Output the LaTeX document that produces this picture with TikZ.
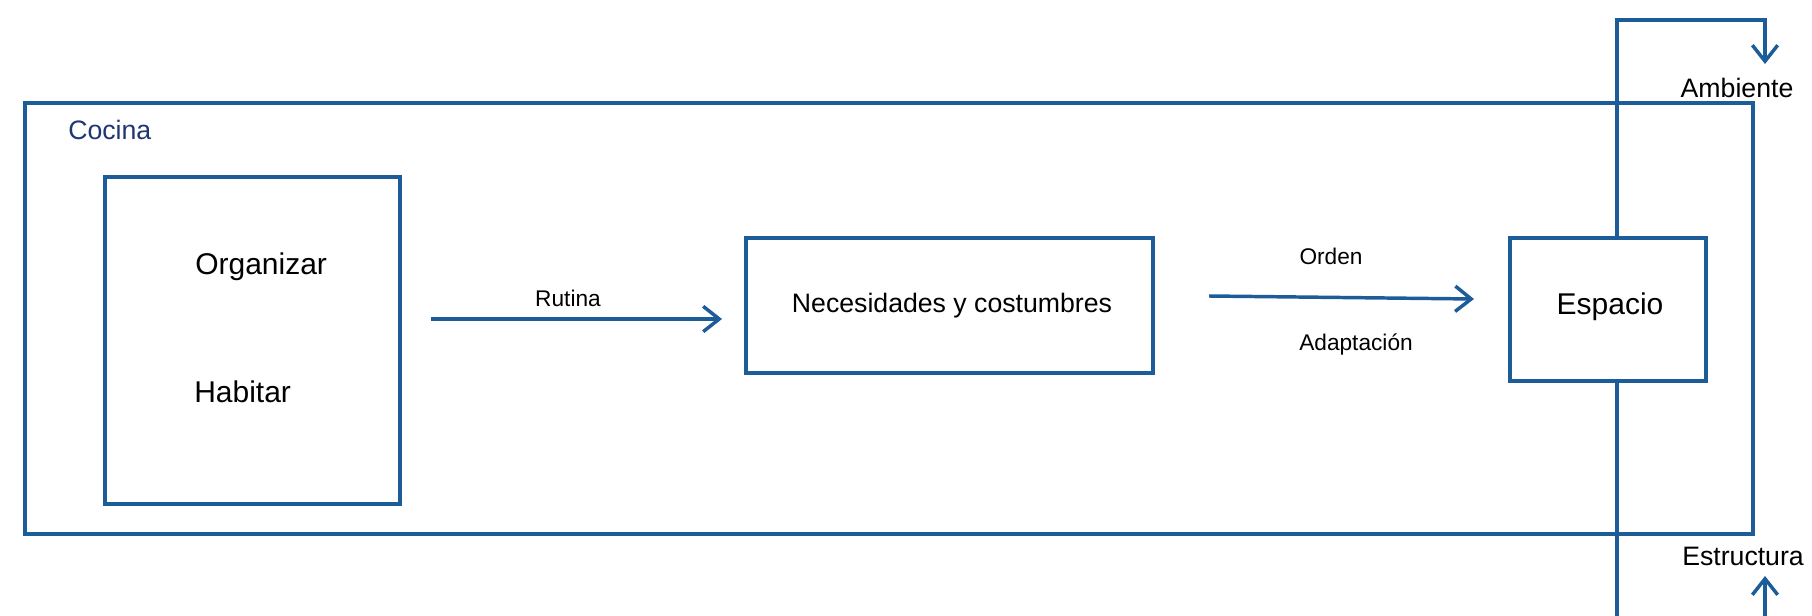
\documentclass[tikz,border=0pt]{standalone}
\usepackage{fontspec}
\setmainfont{Liberation Sans}
\usetikzlibrary{arrows.meta}
\definecolor{lineblue}{RGB}{28,92,152}
\definecolor{navy}{RGB}{30,55,115}
\tikzset{
  box/.style={draw=lineblue, line width=2.6pt, inner sep=0pt, outer sep=0pt},
  conn/.style={draw=lineblue, line width=2.6pt},
  arr/.style={conn, -{Straight Barb[length=12pt,width=19pt,line width=2.6pt]}},
  lbl/.style={inner sep=0pt, font=\fontsize{17}{20}\selectfont},
  big/.style={inner sep=0pt, font=\fontsize{22.5}{26}\selectfont},
  mid/.style={inner sep=0pt, font=\fontsize{20}{24}\selectfont},
}
\begin{document}
\begin{tikzpicture}[x=0.75pt,y=-0.75pt]
\useasboundingbox (0,0) rectangle (1812,616);
% boxes
\node[box, minimum width=1296pt, minimum height=323.25pt] (cocina) at (889,318.5) {};
\node[box, minimum width=221.25pt, minimum height=245.25pt] (org) at (252.5,340.5) {};
\node[box, minimum width=305.25pt, minimum height=101.25pt] (nec) at (949.5,305.5) {};
\node[box, minimum width=147pt, minimum height=107.25pt] (esp) at (1608,309.5) {};
% texts
\node[mid, text=navy, anchor=base west] (tcocina) at (68,140) {Cocina};
\node[big, anchor=base west] (torg) at (195,275) {Organizar};
\node[big, anchor=base west] (thab) at (194,402) {Habitar};
\node[mid, anchor=base] (tnec) at (952,313) {Necesidades y costumbres};
\node[big, anchor=base] (tesp) at (1610,315) {Espacio};
\node[lbl, anchor=base] (trut) at (568,307) {Rutina};
\node[lbl, anchor=base] (tord) at (1331,265) {Orden};
\node[lbl, anchor=base] (tada) at (1356,350) {Adaptación};
\node[mid, anchor=base] (tamb) at (1737,98) {Ambiente};
\node[mid, anchor=base] (test) at (1743,565) {Estructura};
% connectors
\coordinate (r1) at (431,319);
\coordinate (r2) at (722,319);
\draw[arr] (r1) -- (r2);
\coordinate (o1) at (1209,296);
\coordinate (o2) at (1474,299);
\draw[arr] (o1) -- (o2);
\coordinate (vt) at (1617,20);
\coordinate (vr) at (1765,20);
\coordinate (va) at (1765,64);
\draw[arr] (esp.north -| vt) -- (vt) -- (vr) -- (va);
\coordinate (vb) at (1617,616);
\draw[conn] (esp.south -| vb) -- (vb);
\coordinate (eb) at (1765,616);
\coordinate (ea) at (1765,576);
\draw[arr] (eb) -- (ea);
\end{tikzpicture}
\end{document}
